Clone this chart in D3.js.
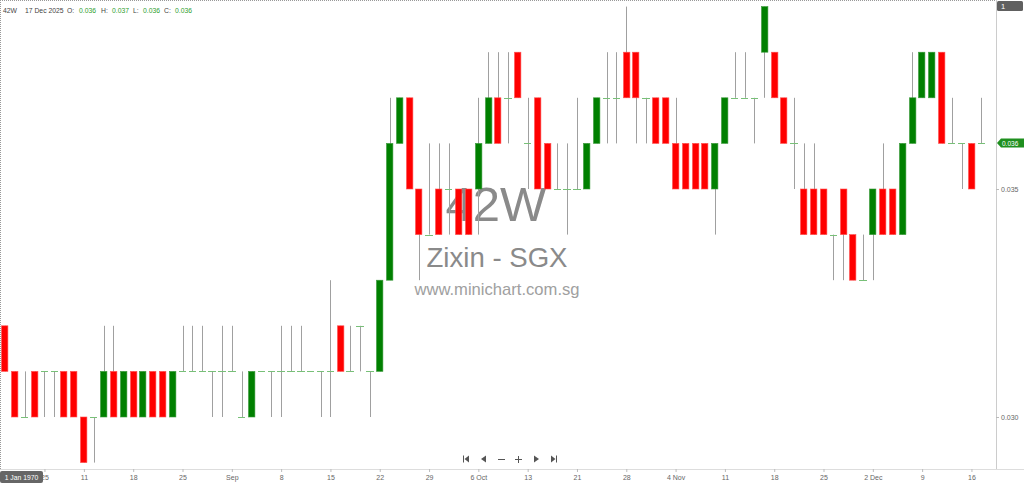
<!DOCTYPE html>
<html>
<head>
<meta charset="utf-8">
<script src="https://cdn.jsdelivr.net/npm/d3@7"></script>
<style>
  html, body { margin: 0; padding: 0; background: #fff; }
  svg { display: block; font-family: "Liberation Sans", Arial, sans-serif; }
  .axis text { fill: #666; font-size: 7px; }
  .axis line { stroke: #bbb; }
  .axis path { display: none; }
</style>
</head>
<body>
<div id="chart"></div>
<script>
// Zixin (42W) daily candles
const opens  = [0.032,0.031,0.030,0.031,0.031,0.031,0.031,0.031,0.030,0.030,
                0.030,0.031,0.030,0.031,0.030,0.031,0.031,0.030,0.031,0.031,
                0.031,0.031,0.031,0.031,0.030,0.030,0.031,0.031,0.031,0.031,
                0.031,0.031,0.031,0.031,0.032,0.031,0.032,0.031,0.031,0.033,
                0.036,0.037,0.035,0.034,0.035,0.035,0.035,0.035,0.035,0.036,
                0.037,0.037,0.038,0.036,0.037,0.036,0.035,0.035,0.035,0.035,
                0.036,0.037,0.037,0.038,0.038,0.037,0.037,0.037,0.036,0.036,
                0.036,0.036,0.035,0.036,0.037,0.037,0.037,0.038,0.038,0.037,
                0.036,0.035,0.035,0.035,0.034,0.035,0.034,0.033,0.034,0.035,
                0.035,0.034,0.036,0.037,0.037,0.038,0.036,0.036,0.036,0.036];
const highs  = [0.032,0.031,0.031,0.031,0.031,0.031,0.031,0.031,0.030,0.030,
                0.032,0.032,0.031,0.031,0.031,0.031,0.031,0.031,0.032,0.032,
                0.032,0.031,0.032,0.032,0.031,0.031,0.031,0.031,0.032,0.032,
                0.032,0.031,0.031,0.033,0.032,0.032,0.032,0.031,0.033,0.037,
                0.037,0.037,0.035,0.036,0.036,0.036,0.035,0.035,0.037,0.038,
                0.038,0.038,0.038,0.037,0.037,0.036,0.036,0.036,0.037,0.036,
                0.037,0.038,0.038,0.039,0.038,0.037,0.037,0.037,0.037,0.036,
                0.036,0.036,0.036,0.037,0.038,0.038,0.037,0.039,0.038,0.037,
                0.037,0.036,0.036,0.035,0.034,0.035,0.034,0.034,0.035,0.036,
                0.035,0.036,0.038,0.038,0.038,0.038,0.037,0.036,0.036,0.037];
const lows   = [0.031,0.030,0.030,0.030,0.030,0.030,0.030,0.030,0.029,0.029,
                0.030,0.030,0.030,0.030,0.030,0.030,0.030,0.030,0.031,0.031,
                0.031,0.030,0.030,0.031,0.030,0.030,0.031,0.030,0.030,0.031,
                0.031,0.031,0.030,0.030,0.031,0.031,0.031,0.030,0.031,0.033,
                0.036,0.035,0.033,0.034,0.034,0.034,0.034,0.034,0.034,0.036,
                0.036,0.036,0.037,0.035,0.035,0.035,0.035,0.034,0.035,0.035,
                0.036,0.036,0.036,0.037,0.036,0.036,0.036,0.036,0.035,0.035,
                0.035,0.035,0.034,0.036,0.037,0.037,0.036,0.037,0.037,0.036,
                0.035,0.034,0.034,0.034,0.033,0.033,0.033,0.033,0.033,0.034,
                0.034,0.034,0.036,0.037,0.037,0.036,0.036,0.035,0.035,0.036];
const closes = [0.031,0.030,0.030,0.030,0.031,0.031,0.030,0.030,0.029,0.030,
                0.031,0.030,0.031,0.030,0.031,0.030,0.030,0.031,0.031,0.031,
                0.031,0.031,0.031,0.031,0.030,0.031,0.031,0.031,0.031,0.031,
                0.031,0.031,0.031,0.031,0.031,0.031,0.032,0.031,0.033,0.036,
                0.037,0.035,0.034,0.034,0.034,0.035,0.034,0.034,0.036,0.037,
                0.036,0.037,0.037,0.036,0.035,0.035,0.035,0.035,0.035,0.036,
                0.037,0.037,0.037,0.037,0.037,0.037,0.036,0.036,0.035,0.035,
                0.035,0.035,0.036,0.037,0.037,0.037,0.037,0.039,0.037,0.036,
                0.036,0.034,0.034,0.034,0.034,0.034,0.033,0.033,0.035,0.034,
                0.034,0.036,0.037,0.038,0.038,0.036,0.036,0.036,0.035,0.036];

// date ticks (candle index -> label)
const tickIdx    = [4, 8, 13, 18, 23, 28, 33, 38, 43, 48, 53, 58, 63, 68, 73, 78, 83, 88, 93, 98];
const tickLabels = ['25', '11', '18', '25', 'Sep', '8', '15', '22', '29', '6 Oct',
                    '13', '21', '28', '4 Nov', '11', '18', '25', '2 Dec', '9', '16'];
const priceTicks = [0.030, 0.035];

const W = 1024, H = 484;
const plotRight = 996, plotBottom = 469;
const n = opens.length;
const red = '#ff0000', green = '#008000';

const svg = d3.select('#chart').append('svg')
    .attr('width', W).attr('height', H);

svg.append('rect').attr('width', W).attr('height', H).attr('fill', '#fff');

const x = d3.scalePoint().domain(d3.range(n)).range([5, 981.3]);
const y = d3.scaleLinear().domain([0.030, 0.035]).range([417, 189]);
const bw = 7.4;

// frame
svg.append('line').attr('x1', 0).attr('x2', plotRight).attr('y1', 0.5).attr('y2', 0.5)
    .attr('stroke', '#999').attr('stroke-dasharray', '1,1');
svg.append('line').attr('x1', 0.5).attr('x2', 0.5).attr('y1', 0).attr('y2', plotBottom)
    .attr('stroke', '#999').attr('stroke-dasharray', '1,1');
svg.append('line').attr('x1', plotRight + 0.5).attr('x2', plotRight + 0.5).attr('y1', 0).attr('y2', plotBottom)
    .attr('stroke', '#ccc');
svg.append('line').attr('x1', 0).attr('x2', W).attr('y1', plotBottom + 0.5).attr('y2', plotBottom + 0.5)
    .attr('stroke', '#ddd');

// watermark
const wm = svg.append('g').attr('text-anchor', 'middle').attr('fill', '#8a8a8a');
wm.append('text').attr('x', 496).attr('y', 221).attr('font-size', 49).text('42W');
wm.append('text').attr('x', 497).attr('y', 267).attr('font-size', 27.6).text('Zixin - SGX');
wm.append('text').attr('x', 497).attr('y', 295).attr('font-size', 16.6).attr('fill', '#a0a0a0')
    .text('www.minichart.com.sg');

// candles
const candles = svg.append('g').selectAll('g')
    .data(d3.range(n))
    .join('g');

candles.filter(i => highs[i] !== lows[i])
  .append('line')
    .attr('x1', i => Math.round(x(i)) + 0.5)
    .attr('x2', i => Math.round(x(i)) + 0.5)
    .attr('y1', i => y(highs[i]))
    .attr('y2', i => y(lows[i]))
    .attr('stroke', '#a0a0a0');

candles.filter(i => opens[i] !== closes[i])
  .append('rect')
    .attr('x', i => Math.round(x(i) - bw / 2) + 0.5)
    .attr('width', bw - 1)
    .attr('y', i => y(Math.max(opens[i], closes[i])))
    .attr('height', i => Math.abs(y(opens[i]) - y(closes[i])))
    .attr('fill', i => closes[i] > opens[i] ? green : red)
    .attr('stroke', i => closes[i] > opens[i] ? '#3a9a3a' : '#ff5050')
    .attr('stroke-width', 0.6);

candles.filter(i => opens[i] === closes[i])
  .append('line')
    .attr('x1', i => Math.round(x(i) - bw / 2))
    .attr('x2', i => Math.round(x(i) + bw / 2))
    .attr('y1', i => Math.round(y(opens[i])) + 0.5)
    .attr('y2', i => Math.round(y(opens[i])) + 0.5)
    .attr('stroke', '#78c078');

// axes
svg.append('g')
    .attr('class', 'axis')
    .attr('transform', `translate(0,${plotBottom})`)
    .call(d3.axisBottom(x).tickValues(tickIdx)
        .tickFormat((d, i) => tickLabels[i]).tickSize(3).tickPadding(3));

svg.append('g')
    .attr('class', 'axis')
    .attr('transform', `translate(${plotRight},0)`)
    .call(d3.axisRight(y).tickValues(priceTicks)
        .tickFormat(d3.format('.3f')).tickSize(3).tickPadding(2));

// header line
const hdr = svg.append('g').attr('font-size', 6.8).attr('fill', '#444');
const hdrItems = [
  ['42W', 3, '#444'], ['17 Dec 2025', 25, '#444'],
  ['O:', 67, '#444'], [d3.format('.3f')(opens[n - 1]), 79, '#2e9e2e'],
  ['H:', 101, '#444'], [d3.format('.3f')(highs[n - 1]), 112, '#2e9e2e'],
  ['L:', 133, '#444'], [d3.format('.3f')(lows[n - 1]), 143, '#2e9e2e'],
  ['C:', 164, '#444'], [d3.format('.3f')(closes[n - 1]), 175, '#2e9e2e']
];
hdr.selectAll('text').data(hdrItems).join('text')
    .attr('x', d => d[1]).attr('y', 12.5).attr('fill', d => d[2]).text(d => d[0]);

// top-right box
svg.append('rect').attr('x', 997).attr('y', 1).attr('width', 26).attr('height', 10)
    .attr('rx', 1.5).attr('fill', '#606060');
svg.append('text').attr('x', 1001).attr('y', 9).attr('font-size', 7.5).attr('fill', '#fff').text('1');

// last price tag
const lastY = Math.round(y(closes[n - 1]));
svg.append('path')
    .attr('d', `M${plotRight + 1},${lastY} L${plotRight + 5},${lastY - 4.5} L${W},${lastY - 4.5} L${W},${lastY + 4.5} L${plotRight + 5},${lastY + 4.5} Z`)
    .attr('fill', '#1f8f1f');
svg.append('text').attr('x', plotRight + 6).attr('y', lastY + 2.5).attr('font-size', 6.5)
    .attr('fill', '#fff').text(d3.format('.3f')(closes[n - 1]));

// date tooltip box
svg.append('rect').attr('x', 0).attr('y', 471).attr('width', 43).attr('height', 12)
    .attr('rx', 2).attr('fill', '#666');
svg.append('text').attr('x', 21.5).attr('y', 479.5).attr('text-anchor', 'middle')
    .attr('font-size', 6.8).attr('fill', '#fff').text('1 Jan 1970');

// navigation buttons
const nav = svg.append('g').attr('fill', '#555').attr('stroke', '#555');
const ny = 459;
// first
nav.append('line').attr('x1', 463.5).attr('x2', 463.5).attr('y1', ny - 3.5).attr('y2', ny + 3.5).attr('stroke-width', 1);
nav.append('path').attr('d', `M469,${ny - 3.5} L464.5,${ny} L469,${ny + 3.5} Z`).attr('stroke', 'none');
// prev
nav.append('path').attr('d', `M486,${ny - 3.5} L481,${ny} L486,${ny + 3.5} Z`).attr('stroke', 'none');
// minus
nav.append('line').attr('x1', 498).attr('x2', 505).attr('y1', ny + 0.5).attr('y2', ny + 0.5);
// plus
nav.append('line').attr('x1', 515).attr('x2', 522).attr('y1', ny + 0.5).attr('y2', ny + 0.5);
nav.append('line').attr('x1', 518.5).attr('x2', 518.5).attr('y1', ny - 3).attr('y2', ny + 4);
// next
nav.append('path').attr('d', `M534,${ny - 3.5} L539,${ny} L534,${ny + 3.5} Z`).attr('stroke', 'none');
// last
nav.append('path').attr('d', `M551,${ny - 3.5} L555.5,${ny} L551,${ny + 3.5} Z`).attr('stroke', 'none');
nav.append('line').attr('x1', 556.5).attr('x2', 556.5).attr('y1', ny - 3.5).attr('y2', ny + 3.5).attr('stroke-width', 1);
</script>
</body>
</html>
